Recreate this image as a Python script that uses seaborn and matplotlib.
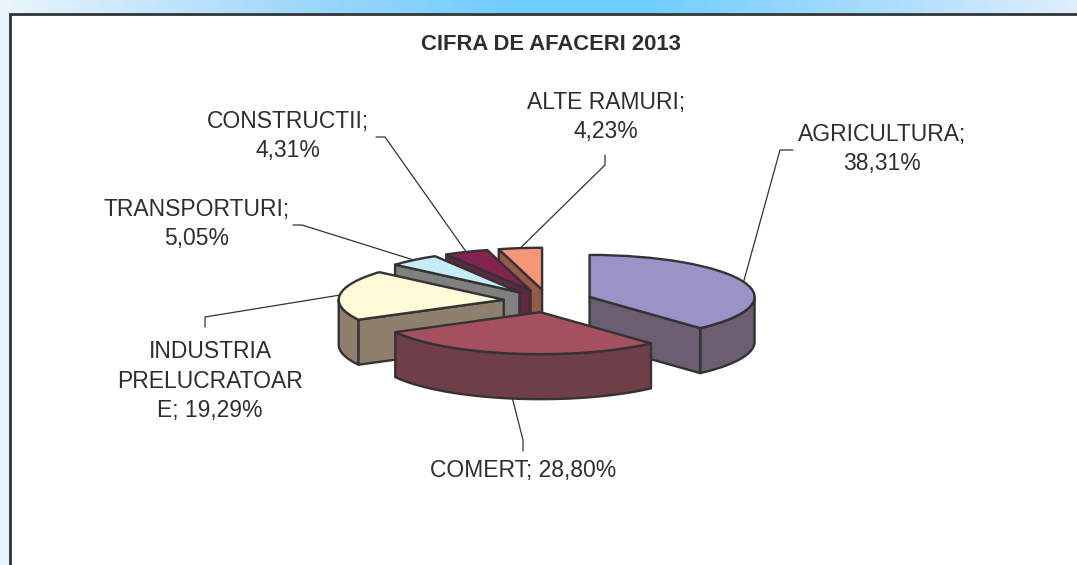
import numpy as np
import matplotlib
matplotlib.use("Agg")
import matplotlib.pyplot as plt
from matplotlib.patches import Polygon
import seaborn as sns

# ---------------- data ----------------
categories = ["AGRICULTURA", "COMERT", "INDUSTRIA PRELUCRATOARE",
              "TRANSPORTURI", "CONSTRUCTII", "ALTE RAMURI"]
shares = [38.31, 28.80, 19.29, 5.05, 4.31, 4.23]
label_texts = ["AGRICULTURA;\n38,31%", "COMERT; 28,80%",
               "INDUSTRIA\nPRELUCRATOAR\nE; 19,29%", "TRANSPORTURI;\n5,05%",
               "CONSTRUCTII;\n4,31%", "ALTE RAMURI;\n4,23%"]
title_text = "CIFRA DE AFACERI 2013"

# ---------------- style / layout ----------------
top_colors = ["#9B92C8", "#A5505F", "#FFFAD7", "#C8EBF8", "#822350", "#F59678"]
side_colors = ["#6B5E73", "#703E48", "#8F806E", "#808080", "#5F283E", "#965A4B"]
EDGE = "#333333"
TEXT = "#2e2e2e"

# label centres (pixels) and the leader elbow (label end, elbow)
label_xy = [(882, 149), (523, 470), (210, 381), (197, 224), (288, 136), (606, 117)]
leader_start = [(793, 150), (523, 451), (205, 327), (293, 225), (376, 137), (605, 155)]
leader_elbow = [(780, 150), (523, 440), (205, 317), (302, 225), (385, 137), (605, 165)]

W, H, DPI = 1077, 565, 100
CX, CY = 548, 301        # pie centre in pixels
RX, RY = 165, 42         # ellipse radii in pixels
DEPTH = 45 / RY          # extrusion depth in data units
EXPLODE = 0.27

sns.set_theme(style="white")
plt.rcParams['font.family'] = ['Liberation Sans', 'DejaVu Sans']

fig = plt.figure(figsize=(W / DPI, H / DPI), dpi=DPI)
fig.patch.set_facecolor("white")

# ---- background frame with gradient strip ----
bg = fig.add_axes([0, 0, 1, 1])
bg.set_axis_off()
xs = np.arange(W)
stops_x = [0, 300, 520, 640, 900, W - 1]
stops_c = np.array([[235, 245, 253], [160, 215, 250], [110, 205, 255],
                    [110, 205, 255], [175, 222, 252], [225, 238, 252]]) / 255
strip = np.stack([np.interp(xs, stops_x, stops_c[:, k]) for k in range(3)], axis=-1)
img = np.ones((H, W, 3))
img[:, :9] = [0.91, 0.956, 0.99]
img[:13] = strip
bg.imshow(img, extent=(0, W, H, 0), aspect='auto', interpolation='nearest')
bg.set_xlim(0, W)
bg.set_ylim(H, 0)
bg.plot([9, W], [13.5, 13.5], color="#2f3438", lw=2, solid_capstyle='butt')
bg.plot([9.5, 9.5], [13, H], color="#2f3438", lw=2, solid_capstyle='butt')

# ---- main pie axes ----
ax = fig.add_axes([0, 0, 1, 1])
ax.patch.set_alpha(0)


def to_data(px, py):
    return ((px - CX) / RX, (CY - py) / RY)


n = len(shares)
wedges, _ = ax.pie(shares, explode=[EXPLODE] * n, startangle=90, counterclock=False,
                   colors=top_colors, radius=1, center=(0, 0), frame=True,
                   wedgeprops=dict(edgecolor=EDGE, linewidth=1.7, joinstyle='round'))
ax.set_aspect('auto')
ax.set_xlim(-CX / RX, (W - CX) / RX)
ax.set_ylim(-(H - CY) / RY, CY / RY)
ax.set_axis_off()

order = np.argsort([-w.center[1] for w in wedges])  # back to front
rank = {int(i): r for r, i in enumerate(order)}


def arc(cx, cy, r, a, b, dz=0.0, num=120):
    t = np.radians(np.linspace(a, b, num))
    return np.column_stack([cx + r * np.cos(t), cy + r * np.sin(t) - dz])


for i, w in enumerate(wedges):
    cx, cy = w.center
    r = w.r
    t1, t2 = w.theta1, w.theta2
    z = 2 + 2 * rank[i]
    side = side_colors[i]
    polys = []
    # outer curved face (front half only)
    k = np.floor(t1 / 360.0) * 360.0
    a, b = t1 - k, t2 - k
    for lo, hi in [(180, 360), (540, 720)]:
        s, e = max(a, lo), min(b, hi)
        if e > s:
            top = arc(cx, cy, r, s, e)
            bot = arc(cx, cy, r, s, e, DEPTH)[::-1]
            polys.append(np.vstack([top, bot]))
    # radial faces
    for ang, vis in [(t1, np.cos(np.radians(t1)) > 1e-6),
                     (t2, np.cos(np.radians(t2)) < -1e-6)]:
        if vis:
            px_ = cx + r * np.cos(np.radians(ang))
            py_ = cy + r * np.sin(np.radians(ang))
            polys.append(np.array([[cx, cy], [px_, py_], [px_, py_ - DEPTH], [cx, cy - DEPTH]]))
    for p in polys:
        ax.add_patch(Polygon(p, closed=True, facecolor=side, edgecolor=EDGE,
                             linewidth=1.7, joinstyle='round', zorder=z))
    w.set_zorder(z + 1)

# ---- labels with leader lines ----
for i, w in enumerate(wedges):
    m = np.radians((w.theta1 + w.theta2) / 2)
    cx, cy = w.center
    ax_ = cx + w.r * np.cos(m)
    ay_ = cy + w.r * np.sin(m)
    if np.sin(m) < -0.5:
        ay_ -= DEPTH
    s = to_data(*leader_start[i])
    el = to_data(*leader_elbow[i])
    ax.plot([s[0], el[0], ax_], [s[1], el[1], ay_], color=EDGE, lw=0.9, zorder=20)
    tx, ty = to_data(*label_xy[i])
    ax.text(tx, ty, label_texts[i], ha='center', va='center', fontsize=16.5,
            color=TEXT, linespacing=1.35, zorder=21)

fig.text(551 / W, 1 - 45 / H, title_text, ha='center', va='center', fontsize=15.8,
         fontweight='bold', color=TEXT)

fig.savefig("out.png", dpi=DPI)
